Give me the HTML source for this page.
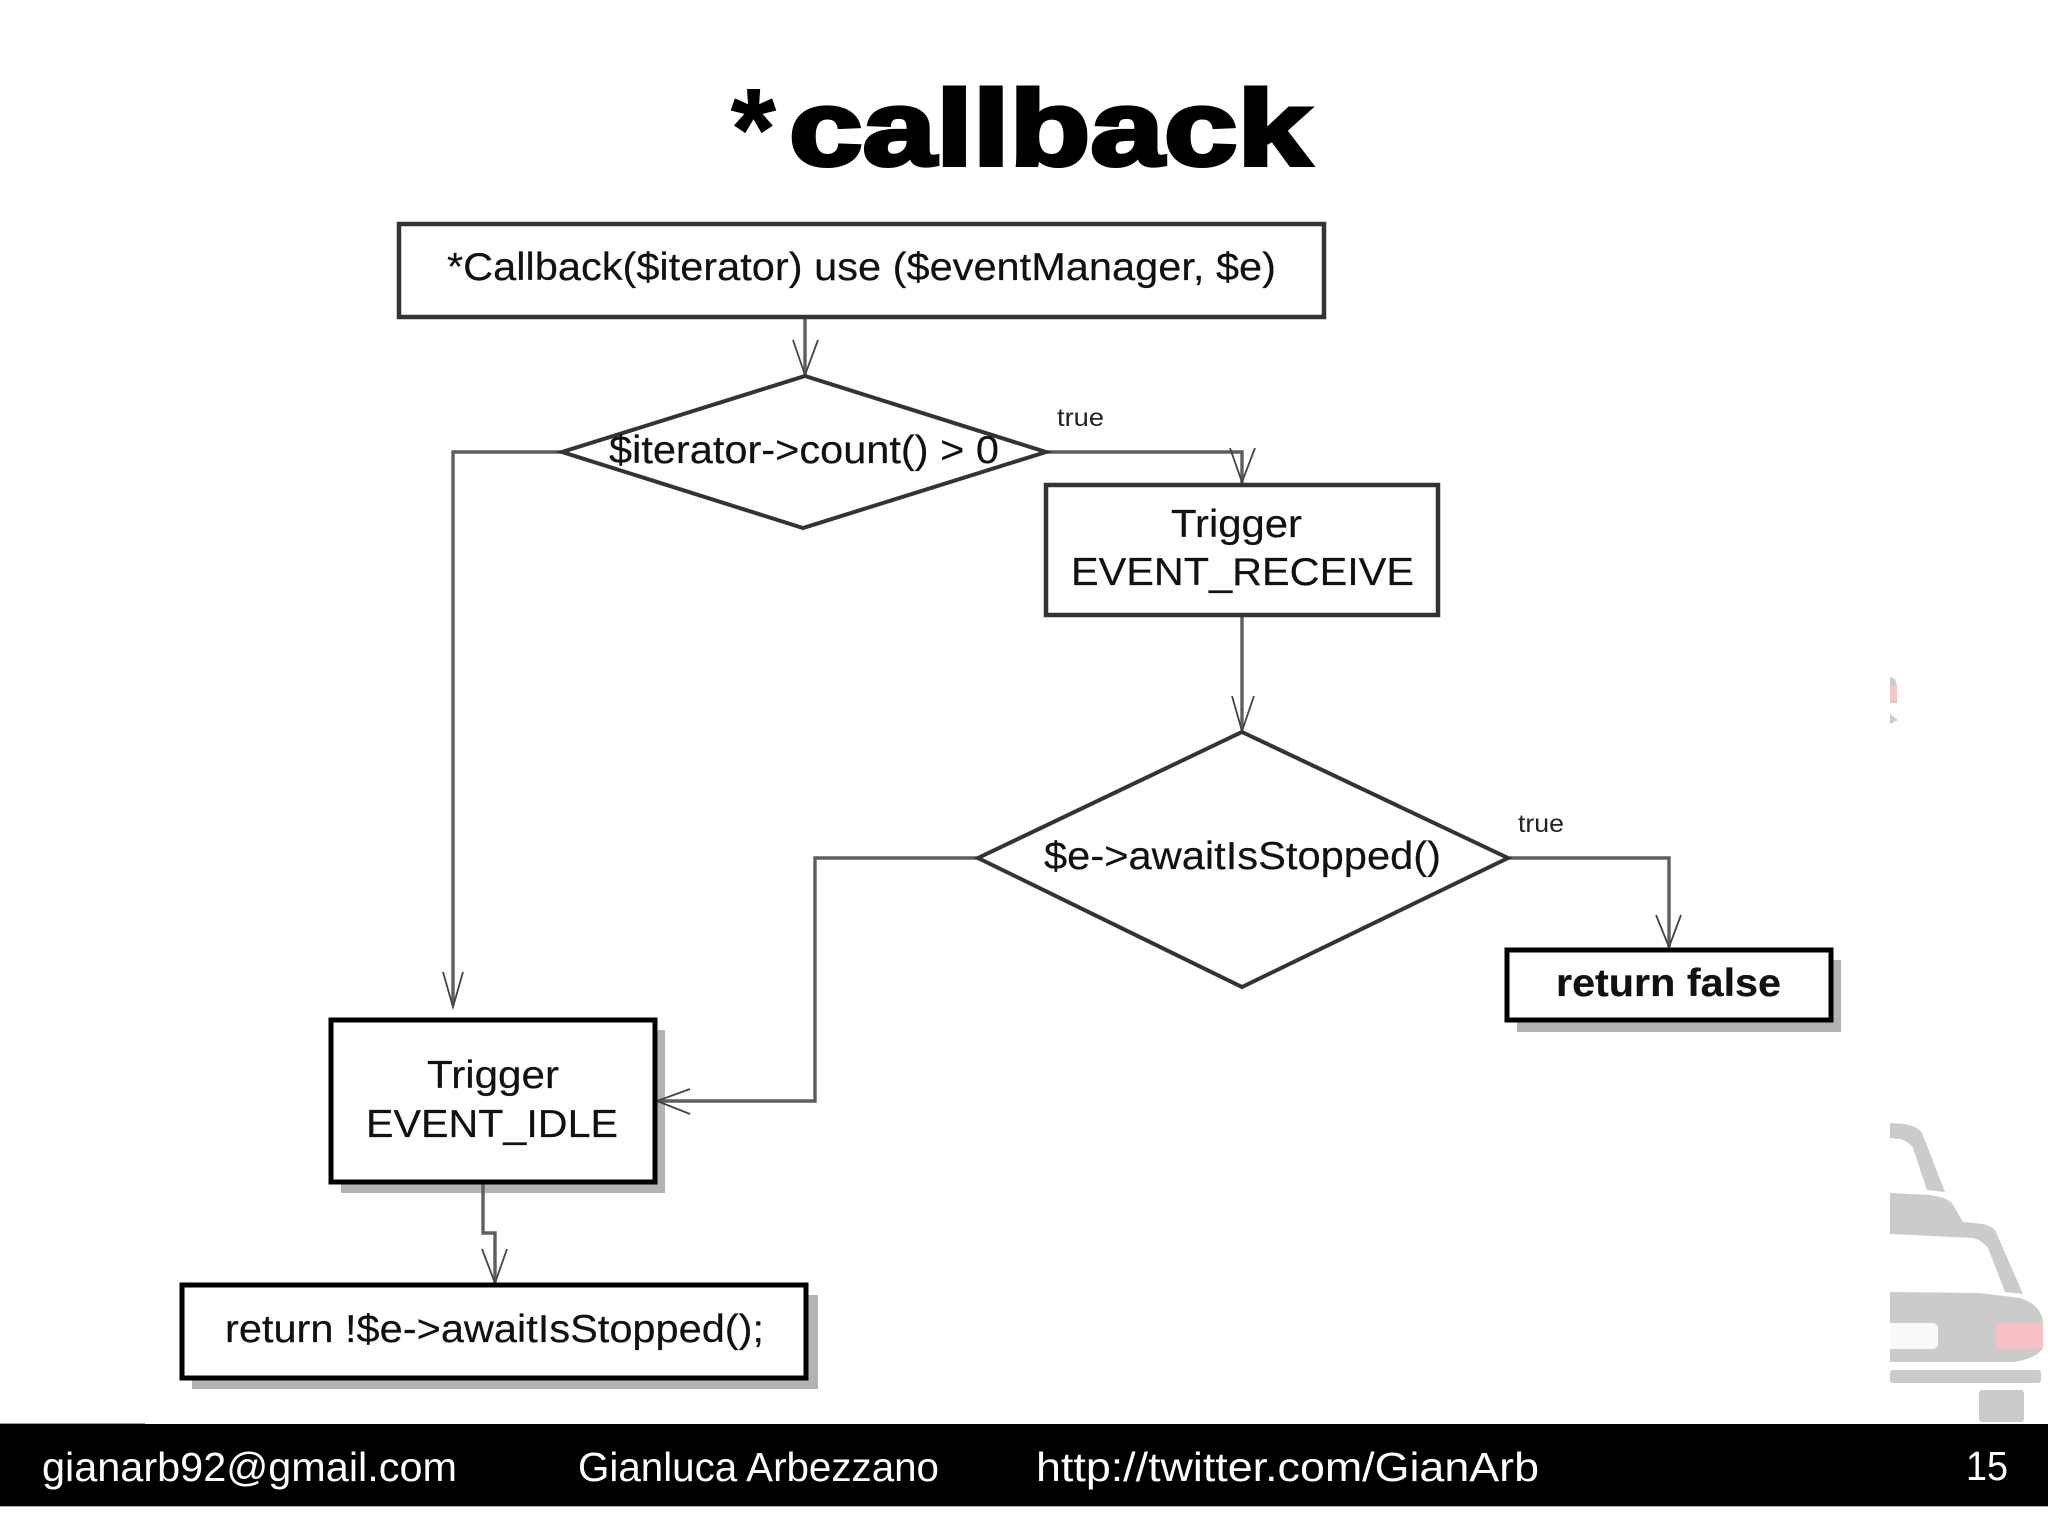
<!DOCTYPE html>
<html>
<head>
<meta charset="utf-8">
<title>*callback</title>
<style>
html,body{margin:0;padding:0;background:#fff;width:2048px;height:1536px;overflow:hidden}
svg{display:block}
text{font-family:"Liberation Sans",Arial,sans-serif}
.t{font-size:39px;fill:#111;stroke:#111;stroke-width:.2}
.l{font-size:25px;fill:#222}
.f{font-size:41px;fill:#fff}
.c{fill:none;stroke:#5e5e5e;stroke-width:3.4}
.h{fill:none;stroke:#444;stroke-width:1.8}
.b{fill:#fff;stroke:#333;stroke-width:4.5}
.k{fill:#fff;stroke:#000;stroke-width:5}
.s{fill:#b3b3b3}
.car{fill:#cbcbcb}
</style>
</head>
<body>
<svg width="2048" height="1536" viewBox="0 0 2048 1536" xmlns="http://www.w3.org/2000/svg">
<rect width="2048" height="1536" fill="#fff"/>

<!-- faded background car -->
<path class="car" d="M1890 677L1895 679L1897 686V703L1890 703Z"/>
<rect x="1890" y="686" width="7" height="15" fill="#f6c6cb"/>
<path class="car" d="M1890 714L1898 720L1890 724Z"/>
<path class="car" d="M1890 1123L1905 1124Q1917 1126 1922 1133L1945 1192L1927 1190L1913 1148Q1908 1141 1900 1139L1890 1138Z"/>
<path class="car" d="M1890 1193L1930 1195Q1945 1197 1952 1203L1963 1222L1983 1224Q1991 1226 1995 1230L2023 1294L2005 1292L1988 1248Q1982 1240 1973 1238L1890 1234Z"/>
<path class="car" d="M1890 1292L1980 1293L2020 1298Q2032 1302 2037 1308Q2043 1316 2043 1323V1348Q2040 1353 2032 1357Q2022 1361 2013 1362H1890Z"/>
<rect x="1885" y="1323" width="53" height="26" rx="5" fill="#fafafa"/>
<rect x="1996" y="1323" width="47" height="26" fill="#f6c1c4"/>
<rect x="1890" y="1370" width="151" height="13" rx="3" class="car"/>
<rect x="1979" y="1390" width="45" height="32" rx="3" class="car"/>
<rect x="1885" y="600" width="5" height="900" fill="#fff"/>

<!-- title -->
<text x="731" y="169" font-size="115" font-weight="700" fill="#000" stroke="#000" stroke-width="1">*</text>
<text x="789" y="165" font-size="107" font-weight="700" fill="#000" stroke="#000" stroke-width="4" textLength="522" lengthAdjust="spacingAndGlyphs">callback</text>

<!-- shadows -->
<rect class="s" x="341" y="1030" width="324" height="163"/>
<rect class="s" x="192" y="1295" width="626" height="94"/>
<rect class="s" x="1517" y="960" width="324" height="72"/>

<!-- connectors -->
<path class="c" d="M805 317V375"/>
<path class="h" d="M793 340L805 375L818 340"/>
<path class="c" d="M562 452H453V1005"/>
<path class="h" d="M443 972L453 1007L463 972"/>
<path class="c" d="M1046 452H1242V483"/>
<path class="h" d="M1230 448L1242 482L1255 448"/>
<path class="c" d="M1242 615V730"/>
<path class="h" d="M1232 696L1242 731L1254 696"/>
<path class="c" d="M1508 858H1669V947"/>
<path class="h" d="M1656 915L1669 947L1681 915"/>
<path class="c" d="M978 858H815V1101H657"/>
<path class="h" d="M690 1089L657 1101L690 1114"/>
<path class="c" d="M483 1182V1233H495V1283"/>
<path class="h" d="M482 1249L495 1283L507 1249"/>

<!-- nodes -->
<rect class="b" x="399" y="224" width="925" height="93"/>
<path d="M805 376L1046 452L803 528L562 452Z" fill="none" stroke="#333" stroke-width="4"/>
<rect class="b" x="1046" y="485" width="392" height="130"/>
<path d="M1242 732L1508 858L1242 987L978 858Z" fill="#fff" stroke="#333" stroke-width="4"/>
<rect class="k" x="1507" y="950" width="324" height="70"/>
<rect class="k" x="331" y="1020" width="324" height="162"/>
<rect class="k" x="182" y="1285" width="624" height="93"/>

<!-- labels -->
<text class="t" x="447" y="280" textLength="829" lengthAdjust="spacingAndGlyphs">*Callback($iterator) use ($eventManager, $e)</text>
<text class="t" x="609" y="463" textLength="390" lengthAdjust="spacingAndGlyphs">$iterator-&gt;count() &gt; 0</text>
<text class="l" x="1057" y="426" textLength="47" lengthAdjust="spacingAndGlyphs">true</text>
<text class="t" x="1171" y="537" textLength="131" lengthAdjust="spacingAndGlyphs">Trigger</text>
<text class="t" x="1071" y="585" textLength="343" lengthAdjust="spacingAndGlyphs">EVENT_RECEIVE</text>
<text class="t" x="1044" y="869" textLength="397" lengthAdjust="spacingAndGlyphs">$e-&gt;awaitIsStopped()</text>
<text class="l" x="1518" y="832" textLength="46" lengthAdjust="spacingAndGlyphs">true</text>
<text class="t" x="1556" y="996" font-weight="700" textLength="225" lengthAdjust="spacingAndGlyphs">return false</text>
<text class="t" x="427" y="1088" textLength="132" lengthAdjust="spacingAndGlyphs">Trigger</text>
<text class="t" x="366" y="1137" textLength="252" lengthAdjust="spacingAndGlyphs">EVENT_IDLE</text>
<text class="t" x="225" y="1342" textLength="539" lengthAdjust="spacingAndGlyphs">return !$e-&gt;awaitIsStopped();</text>

<!-- footer -->
<rect x="0" y="1423" width="145" height="1.5" fill="#999"/>
<rect x="0" y="1424" width="2048" height="82" fill="#000"/>
<rect x="0" y="1506" width="2048" height="1" fill="#aaa"/>
<text class="f" x="42" y="1481" textLength="415" lengthAdjust="spacingAndGlyphs">gianarb92@gmail.com</text>
<text class="f" x="578" y="1481" textLength="361" lengthAdjust="spacingAndGlyphs">Gianluca Arbezzano</text>
<text class="f" x="1036" y="1481" textLength="503" lengthAdjust="spacingAndGlyphs">http://twitter.com/GianArb</text>
<text class="f" x="1966" y="1480" textLength="42" lengthAdjust="spacingAndGlyphs">15</text>
</svg>
</body>
</html>
